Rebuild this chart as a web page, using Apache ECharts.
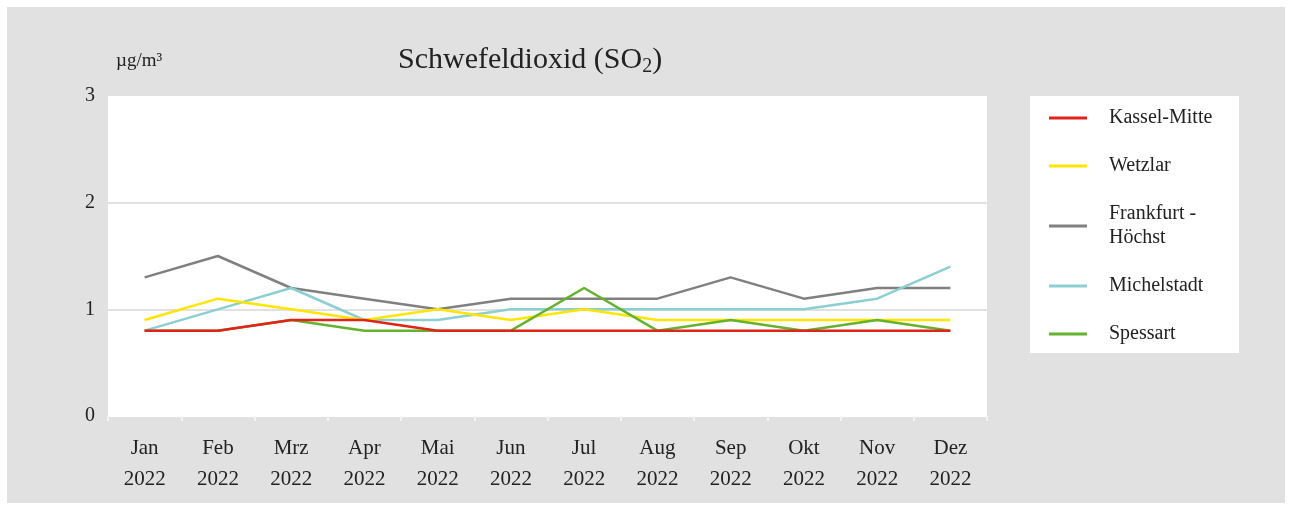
<!DOCTYPE html>
<html lang="de">
<head>
    <meta charset="UTF-8">
    <title>Schwefeldioxid</title>
    <script src="https://cdn.jsdelivr.net/npm/echarts@6/dist/echarts.min.js"></script>
    <style>
        body { margin: 0; background: #fff; }
        #main { width: 1292px; height: 510px; }
    </style>
</head>
<body>
    <div id="main"></div>
    <script>
        // Monate
        var months = ['Jan', 'Feb', 'Mrz', 'Apr', 'Mai', 'Jun', 'Jul', 'Aug', 'Sep', 'Okt', 'Nov', 'Dez'];
        var year = '2022';
        var yTicks = [0, 1, 2, 3];

        // Messstationen (µg/m³)
        var kasselMitte = [0.8, 0.8, 0.9, 0.9, 0.8, 0.8, 0.8, 0.8, 0.8, 0.8, 0.8, 0.8];
        var wetzlar = [0.9, 1.1, 1.0, 0.9, 1.0, 0.9, 1.0, 0.9, 0.9, 0.9, 0.9, 0.9];
        var frankfurtHoechst = [1.3, 1.5, 1.2, 1.1, 1.0, 1.1, 1.1, 1.1, 1.3, 1.1, 1.2, 1.2];
        var michelstadt = [0.8, 1.0, 1.2, 0.9, 0.9, 1.0, 1.0, 1.0, 1.0, 1.0, 1.1, 1.4];
        var spessart = [0.8, 0.8, 0.9, 0.8, 0.8, 0.8, 1.2, 0.8, 0.9, 0.8, 0.9, 0.8];

        var font = 'Liberation Serif';
        var chart = echarts.init(document.getElementById('main'));

        function line(name, data, color, z) {
            return {
                name: name,
                type: 'line',
                data: data,
                z: z,
                symbol: 'none',
                lineStyle: { color: color, width: 2.5 },
                itemStyle: { color: color }
            };
        }

        chart.setOption({
            animation: false,
            textStyle: { fontFamily: font },
            graphic: [
                { type: 'rect', left: 7, top: 7, z: -10, shape: { width: 1278, height: 496 }, style: { fill: '#e1e1e1' } },
                { type: 'rect', left: 1030, top: 96, z: -5, shape: { width: 209, height: 257 }, style: { fill: '#fff' } },
                { type: 'text', left: 116, top: 52, style: { text: 'µg/m³', font: '19px "Liberation Serif"', fill: '#222' } }
            ],
            title: {
                text: 'Schwefeldioxid (SO{sub|2})',
                left: 393,
                top: 38,
                textStyle: {
                    fontFamily: font,
                    fontSize: 30,
                    fontWeight: 'normal',
                    color: '#222',
                    rich: {
                        sub: { fontFamily: font, fontSize: 20, color: '#222', padding: [14, 0, 0, 0] }
                    }
                }
            },
            legend: {
                orient: 'vertical',
                left: 1044,
                top: 101,
                itemGap: 24,
                icon: 'rect',
                itemWidth: 38,
                itemHeight: 3,
                textStyle: { fontFamily: font, fontSize: 20, color: '#222', lineHeight: 24, padding: [0, 0, 0, 17] },
                data: ['Kassel-Mitte', 'Wetzlar', 'Frankfurt -\nHöchst', 'Michelstadt', 'Spessart']
            },
            grid: {
                left: 108,
                right: 305,
                top: 96,
                bottom: 94,
                show: true,
                backgroundColor: '#fff',
                borderWidth: 0
            },
            xAxis: {
                type: 'category',
                data: months,
                boundaryGap: true,
                axisLine: { show: true, lineStyle: { color: '#fff', width: 1 } },
                axisTick: { show: true, length: 5, lineStyle: { color: '#f4f4f4', width: 2 } },
                axisLabel: {
                    margin: 17,
                    fontFamily: font,
                    fontSize: 21,
                    lineHeight: 31,
                    color: '#222',
                    formatter: function (m) { return m + '\n' + year; }
                }
            },
            yAxis: {
                type: 'value',
                min: yTicks[0],
                max: yTicks[yTicks.length - 1],
                interval: 1,
                axisLine: { show: false },
                axisTick: { show: false },
                axisLabel: { margin: 13, fontFamily: font, fontSize: 20, color: '#222', padding: [3, 0, 0, 0] },
                splitLine: {
                    lineStyle: { color: '#e1e1e1', width: 2 },
                    showMinLine: false,
                    showMaxLine: false
                }
            },
            series: [
                line('Kassel-Mitte', kasselMitte, '#e2231a', 10),
                line('Wetzlar', wetzlar, '#ffe500', 6),
                line('Frankfurt -\nHöchst', frankfurtHoechst, '#808080', 4),
                line('Michelstadt', michelstadt, '#8ccfd0', 5),
                line('Spessart', spessart, '#64b22e', 7)
            ]
        });
    </script>
</body>
</html>
